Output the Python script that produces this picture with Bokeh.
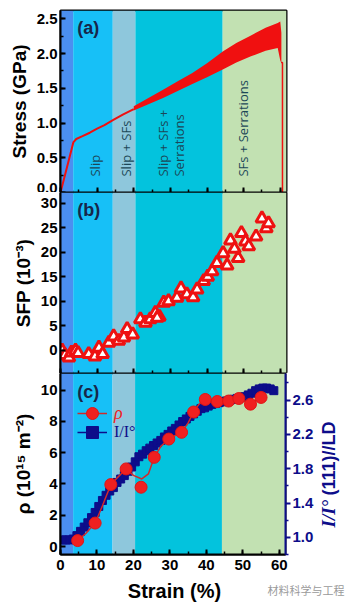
import math
from bokeh.plotting import figure
from bokeh.models import (Range1d, LinearAxis, BoxAnnotation, FixedTicker, SingleIntervalTicker,
                          PrintfTickFormatter, Legend, LegendItem, Label)
from bokeh.layouts import column, row
from bokeh.embed import file_html
from bokeh.resources import INLINE
from bokeh.core.properties import value

# ---------------- data ----------------
band_edges = [0, 3.46, 14.27, 20.45, 44.27, 61.7]
band_colors = ["#4b8ff0", "#17c0f7", "#8ec7dc", "#03c3dd", "#c2e1b2"]
band_texts = ["Slip", "Slip + SFs", "Slip + SFs +", "Serrations", "SFs + Serrations"]
band_text_x = [9.35, 18.0, 28.0, 32.3, 49.8]

# (a) stress-strain
stress_strain = [0, 3.5, 4.3, 6, 8, 10, 12, 14.3, 17, 20]
stress_gpa = [0, 0.72, 0.77, 0.81, 0.86, 0.92, 0.97, 1.04, 1.12, 1.20]
serr_strain = [20, 24, 28, 32, 36, 40, 44.3, 48, 52, 56, 59.3, 60.0, 60.3]
serr_upper = [1.24, 1.36, 1.48, 1.60, 1.72, 1.86, 2.03, 2.15, 2.26, 2.37, 2.44, 2.46, 2.30]
serr_lower = [1.18, 1.27, 1.36, 1.46, 1.56, 1.66, 1.77, 1.87, 1.96, 2.04, 2.08, 1.90, 1.86]
drop_strain = [60.2, 60.6, 60.6]
drop_gpa = [1.87, 1.87, 0.0]

# (b) SFP
sfp_strain = [0.45, 1.2, 2.3, 3.0, 4.1, 4.8, 7.7, 9.4, 10.5, 11.5, 13.2, 14.5, 15.9, 17.3, 18.2,
              19.7, 21.8, 23.2, 24.5, 25.9, 27.0, 26.4, 28.2, 29.5, 31.8, 32.9, 34.5, 36.2, 37.3,
              39.1, 40.2, 41.4, 42.7, 44.4, 45.5, 46.4, 47.5, 48.5, 49.4, 50.5, 51.4, 53.4, 55.0,
              56.2, 56.8]
sfp_val = [-0.1, -1.0, -1.5, -0.5, -0.1, -0.6, -0.8, -1.3, 0.5, -0.8, 1.5, 2.8, 1.9, 2.6, 4.3,
           3.2, 6.3, 5.6, 6.3, 7.6, 6.8, 6.6, 9.7, 10.0, 10.7, 12.6, 11.4, 10.8, 12.4,
           14.1, 15.0, 16.1, 17.8, 19.8, 17.3, 22.4, 20.7, 18.8, 23.9, 22.2, 21.2, 23.2, 26.9,
           24.9, 25.9]

# (c) dislocation density and texture
rho_strain = [4.7, 9.5, 13.8, 18.0, 22.1, 25.7, 29.7, 33.2, 36.5, 39.7, 43.0, 46.1, 48.9, 52.1, 55.0]
rho_val = [0.38, 1.5, 3.96, 4.96, 3.79, 5.7, 6.87, 7.3, 8.6, 9.4, 9.27, 9.3, 9.46, 9.1, 9.53]
rho_fit_strain = [4.7, 7.0, 9.5, 11.5, 13.8, 16.0, 18.0, 20.0, 22.3, 24.1, 25.7, 27.5, 29.7, 31.5,
                  33.2, 35.0, 36.5, 38.0, 39.7, 43.0, 46.1, 48.9, 52.1, 55.0]
rho_fit_val = [0.38, 0.85, 1.5, 2.6, 3.96, 4.5, 4.96, 4.55, 4.32, 4.64, 5.7, 6.4, 6.87, 7.1,
               7.3, 7.9, 8.6, 9.1, 9.4, 9.27, 9.3, 9.46, 9.1, 9.53]
tex_strain = [0.5, 1.5, 2.5, 3.5, 4.5, 5.5, 6.5, 7.5, 8.5, 9.5, 10.5, 11.5, 12.5, 13.5, 14.5, 15.5,
              16.5, 17.5, 18.5, 19.5, 20.5, 21.5, 22.5, 23.5, 24.5, 25.5, 26.5, 27.5, 28.5, 29.5,
              30.5, 31.5, 32.5, 33.5, 34.5, 35.5, 36.5, 37.5, 38.5, 39.5, 40.5, 41.5, 42.5, 43.5,
              44.5, 45.5, 46.5, 47.5, 48.5, 49.5, 50.5, 51.5, 52.5, 53.5, 54.5, 55.5, 56.5, 57.5, 58.5]
tex_val = [0.97, 0.97, 0.97, 0.98, 1.02, 1.07, 1.12, 1.17, 1.23, 1.29, 1.36, 1.43, 1.49, 1.54,
           1.58, 1.64, 1.68, 1.72, 1.77, 1.82, 1.88, 1.94, 1.97, 2.01, 2.04, 2.07, 2.10, 2.13,
           2.17, 2.20, 2.24, 2.27, 2.31, 2.35, 2.38, 2.41, 2.44, 2.47, 2.50, 2.51, 2.53, 2.55,
           2.56, 2.57, 2.58, 2.59, 2.60, 2.61, 2.62, 2.63, 2.64, 2.66, 2.68, 2.71, 2.73, 2.74,
           2.74, 2.73, 2.71]
tex_title_parts = ["I/I\u00b0", "(111)//LD"]
x_title = ["Strain (%)"]
watermark = ["\u6750\u6599\u79d1\u5b66\u4e0e\u5de5\u7a0b"]

FONT = "Liberation Sans"
NAVY = "#0d0d8a"
xr = Range1d(0, 61.7)


def make_fig(width, height, yr, top, bottom, right):
    p = figure(width=width, height=height, x_range=xr, y_range=yr, output_backend="svg",
               toolbar_location=None, min_border_left=60, min_border_right=right,
               min_border_top=top, min_border_bottom=bottom)
    p.xgrid.visible = False
    p.ygrid.visible = False
    p.outline_line_color = "black"
    p.outline_line_width = 2
    p.outline_line_alpha = 1
    for i in range(len(band_colors)):
        p.add_layout(BoxAnnotation(left=band_edges[i], right=band_edges[i + 1],
                                   fill_color=band_colors[i], fill_alpha=1,
                                   line_alpha=0, level="underlay"))
    for ax in p.axis:
        ax.axis_line_width = 2
        ax.axis_line_color = "black"
        ax.major_tick_line_width = 2
        ax.minor_tick_line_width = 1.5
        ax.major_tick_in = 5
        ax.major_tick_out = 0
        ax.minor_tick_in = 3
        ax.minor_tick_out = 0
        ax.major_label_text_font = FONT
        ax.major_label_text_font_style = "bold"
        ax.major_label_text_font_size = "15px"
        ax.major_label_text_color = "black"
        ax.axis_label_text_font = FONT
        ax.axis_label_text_font_style = "bold"
        ax.axis_label_text_font_size = "19px"
        ax.axis_label_text_color = "black"
        ax.major_label_standoff = 3
        ax.axis_label_standoff = 4
    p.xaxis.ticker = SingleIntervalTicker(interval=10, num_minor_ticks=2)
    return p


def hide_x_labels(p):
    ax = p.xaxis[0]
    ax.major_label_text_color = None
    ax.major_label_text_font_size = "1px"
    ax.major_label_standoff = 0
    ax.axis_label = None


def panel_label(p, txt, x, y):
    p.add_layout(Label(x=x, y=y, text=txt, text_font=FONT, text_font_style="bold",
                       text_font_size="18px", text_color="#17264a",
                       text_baseline="middle", text_align="left"))


def blank_fig(width, height):
    f = figure(width=width, height=height, x_range=Range1d(0, width), y_range=Range1d(0, height),
               output_backend="svg", toolbar_location=None, min_border=0)
    f.axis.visible = False
    f.xgrid.visible = False
    f.ygrid.visible = False
    f.outline_line_color = None
    try:
        f.frame_align = False
    except Exception:
        pass
    return f


# ---------------- (a) ----------------
pa = make_fig(347, 192, Range1d(0, 2.619), 10, 0, 61)
hide_x_labels(pa)
pa.yaxis.ticker = SingleIntervalTicker(interval=0.5, num_minor_ticks=2)
pa.yaxis.formatter = PrintfTickFormatter(format="%.1f")
pa.yaxis.axis_label = "Stress (GPa)"
pa.line(stress_strain, stress_gpa, line_color="#f01010", line_width=2)
pa.varea(x=serr_strain, y1=serr_lower, y2=serr_upper, fill_color="#f01010")
pa.line(drop_strain, drop_gpa, line_color="#f01010", line_width=1.5)
for t, x in zip(band_texts, band_text_x):
    pa.add_layout(Label(x=x, y=0.23, text=t, angle=math.pi / 2, text_font="Open Sans",
                        text_font_size="13px", text_color="#1c4757",
                        text_align="left", text_baseline="middle"))
panel_label(pa, "(a)", 4.6, 2.37)

# ---------------- (b) ----------------
pb = make_fig(347, 181, Range1d(-4.76, 32.2), 0, 0, 61)
hide_x_labels(pb)
pb.yaxis.ticker = SingleIntervalTicker(interval=5)
pb.yaxis.minor_tick_line_color = None
pb.yaxis.axis_label = "SFP (10\u207b\u00b3)"
pb.scatter(sfp_strain, sfp_val, marker="triangle", size=12, fill_color="white",
           line_color="#ee1111", line_width=3)
panel_label(pb, "(b)", 4.6, 28.7)

# ---------------- (c) ----------------
pc = make_fig(316, 205, Range1d(-0.51, 11.06), 0, 24, 30)
pc.yaxis.ticker = SingleIntervalTicker(interval=2)
pc.yaxis.minor_tick_line_color = None
pc.yaxis.axis_label = "\u03c1 (10\u00b9\u2075 m\u207b\u00b2)"
pc.xaxis.major_label_standoff = 5
pc.extra_y_ranges = {"tex": Range1d(0.8, 2.91)}
rax = LinearAxis(y_range_name="tex",
                 ticker=FixedTicker(ticks=[1.0, 1.4, 1.8, 2.2, 2.6],
                                    minor_ticks=[0.8, 1.2, 1.6, 2.0, 2.4, 2.8]),
                 formatter=PrintfTickFormatter(format="%.1f"))
rax.axis_line_width = 2
rax.axis_line_color = NAVY
rax.major_tick_line_color = NAVY
rax.minor_tick_line_color = NAVY
rax.major_tick_line_width = 2
rax.minor_tick_line_width = 1.5
rax.major_tick_in = 0
rax.major_tick_out = 5
rax.minor_tick_in = 0
rax.minor_tick_out = 3
rax.major_label_text_font = FONT
rax.major_label_text_font_style = "bold"
rax.major_label_text_font_size = "15px"
rax.major_label_text_color = NAVY
rax.major_label_standoff = 2
pc.add_layout(rax, "right")

t_line = pc.line(tex_strain, tex_val, y_range_name="tex", line_color=NAVY, line_width=1.5)
t_sc = pc.scatter(tex_strain, tex_val, y_range_name="tex", marker="square", size=8,
                  fill_color=NAVY, line_color=NAVY)
r_line = pc.line(rho_fit_strain, rho_fit_val, line_color="#d02a2a", line_width=1.5)
r_sc = pc.scatter(rho_strain, rho_val, marker="circle", size=12, fill_color="#f02020",
                  line_color="#e01515")

leg1 = Legend(items=[LegendItem(label="\u03c1", renderers=[r_line, r_sc])],
              location=(17, 126), glyph_width=30, glyph_height=30, label_standoff=7,
              padding=0, margin=0, spacing=0, background_fill_alpha=0, border_line_alpha=0,
              label_text_font="Liberation Serif", label_text_font_style="italic",
              label_text_font_size="18px", label_text_color="#f02020")
leg2 = Legend(items=[LegendItem(label="I/I\u00b0", renderers=[t_line, t_sc])],
              location=(17, 107), glyph_width=30, glyph_height=30, label_standoff=7,
              padding=0, margin=0, spacing=0, background_fill_alpha=0, border_line_alpha=0,
              label_text_font="Liberation Serif", label_text_font_size="16px",
              label_text_color=NAVY)
pc.add_layout(leg1)
pc.add_layout(leg2)
panel_label(pc, "(c)", 4.6, 9.85)

# right-hand axis title, reading bottom-to-top
side = blank_fig(31, 205)
side.text(x=[12], y=[51], text=[tex_title_parts[0]], angle=math.pi / 2,
          text_font=value("Liberation Serif"), text_font_size="19px",
          text_font_style="bold italic", text_color=NAVY,
          text_align="left", text_baseline="middle")
side.text(x=[12], y=[83], text=[tex_title_parts[1]], angle=math.pi / 2,
          text_font=value(FONT), text_font_size="18px",
          text_font_style="bold", text_color=NAVY,
          text_align="left", text_baseline="middle")

# x-axis title strip with watermark
strip = blank_fig(347, 25)
strip.text(x=[174], y=[13], text=x_title, text_font=value(FONT), text_font_size="20px",
           text_font_style="bold", text_color="black",
           text_align="center", text_baseline="middle")
strip.text(x=[267], y=[14], text=watermark, text_font=value("Noto Sans CJK SC"),
           text_font_size="11px", text_color="#9a9a9a",
           text_align="left", text_baseline="middle")

layout = column(pa, pb, row(pc, side, spacing=0), strip, spacing=0)
open("out.html", "w").write(file_html(layout, INLINE))
